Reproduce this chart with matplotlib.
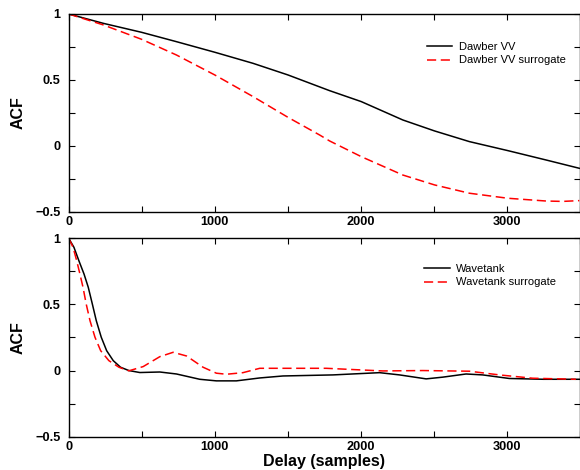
import numpy as np
import matplotlib
matplotlib.use('Agg')
import matplotlib.pyplot as plt
from matplotlib.ticker import MultipleLocator

plt.rcParams['font.family'] = ['Liberation Sans', 'DejaVu Sans']

# top panel: Dawber VV
dv_x = [0, 237, 499, 738, 1000, 1262, 1501, 1786, 2003, 2287, 2504, 2743, 3005, 3267, 3495]
dv_y = [1.0, 0.929, 0.861, 0.79, 0.71, 0.626, 0.538, 0.419, 0.336, 0.197, 0.114, 0.033, -0.035, -0.106, -0.169]
dvs_x = [0, 237, 499, 738, 1000, 1262, 1501, 1718, 1786, 2003, 2287, 2504, 2743, 3005, 3267, 3380, 3495]
dvs_y = [1.0, 0.917, 0.808, 0.689, 0.538, 0.374, 0.217, 0.083, 0.038, -0.081, -0.22, -0.295, -0.358, -0.396, -0.417, -0.42, -0.414]

# bottom panel: Wavetank
wt_x = [0, 36, 70, 105, 134, 162, 189, 223, 260, 305, 355, 412, 487, 624, 738, 897, 1011, 1148, 1308,
        1467, 1809, 2128, 2265, 2447, 2560, 2720, 2834, 3016, 3250, 3500]
wt_y = [1.0, 0.932, 0.83, 0.73, 0.63, 0.503, 0.377, 0.252, 0.15, 0.075, 0.025, 0.0, -0.015, -0.011,
        -0.026, -0.066, -0.078, -0.078, -0.056, -0.041, -0.033, -0.016, -0.033, -0.063, -0.05, -0.026,
        -0.033, -0.06, -0.066, -0.066]
wts_x = [0, 30, 55, 77, 98, 120, 146, 180, 219, 275, 344, 412, 510, 624, 715, 807, 920, 1011, 1080, 1193,
         1308, 1376, 1763, 2150, 2424, 2743, 2948, 3176, 3472]
wts_y = [1.0, 0.932, 0.83, 0.73, 0.63, 0.503, 0.377, 0.252, 0.15, 0.075, 0.025, -0.002, 0.03, 0.105, 0.138,
         0.11, 0.025, -0.02, -0.028, -0.016, 0.017, 0.017, 0.017, -0.003, 0.0, -0.005, -0.033, -0.058, -0.066]

xticks = [0, 1000, 2000, 3000]
yticks = [-0.5, 0, 0.5, 1]

fig = plt.figure(figsize=(5.8, 4.7), dpi=100)
ax1 = fig.add_axes([0.1184, 0.549, 0.8816, 0.4213])
ax2 = fig.add_axes([0.1184, 0.0709, 0.8816, 0.4221])

panels = [
    (ax1, dv_x, dv_y, dvs_x, dvs_y, 'Dawber VV', 'Dawber VV surrogate', (0.700, 0.858)),
    (ax2, wt_x, wt_y, wts_x, wts_y, 'Wavetank', 'Wavetank surrogate', (0.695, 0.870)),
]
for ax, x1, y1, x2, y2, l1, l2, anchor in panels:
    ax.plot(x1, y1, color='black', lw=1.1, label=l1)
    ax.plot(x2, y2, color='red', lw=1.1, dashes=(6, 3), label=l2)
    ax.set_xlim(0, 3500)
    ax.set_ylim(-0.5, 1)
    ax.set_xticks(xticks)
    ax.set_yticks(yticks)
    ax.set_yticklabels(['\u22120.5', '0', '0.5', '1'])
    ax.xaxis.set_minor_locator(MultipleLocator(500))
    ax.yaxis.set_minor_locator(MultipleLocator(0.25))
    ax.tick_params(which='both', direction='in', top=True, right=True, length=4, width=0.8)
    ax.tick_params(axis='x', labelsize=9.2, pad=3)
    ax.tick_params(axis='y', labelsize=9.2, pad=6)
    for lab in ax.get_xticklabels() + ax.get_yticklabels():
        lab.set_fontweight('bold')
    for sp in ax.spines.values():
        sp.set_linewidth(1.0)
    ax.set_ylabel('ACF', fontsize=11.5, fontweight='bold', labelpad=7)
    ax.legend(loc='upper left', bbox_to_anchor=anchor, frameon=False, fontsize=8.0,
              handlelength=2.3, handletextpad=0.6, labelspacing=0.3, borderpad=0, borderaxespad=0)

ax2.set_xlabel('Delay (samples)', fontsize=11.5, fontweight='bold', labelpad=1)

fig.savefig('out.png', dpi=100)
